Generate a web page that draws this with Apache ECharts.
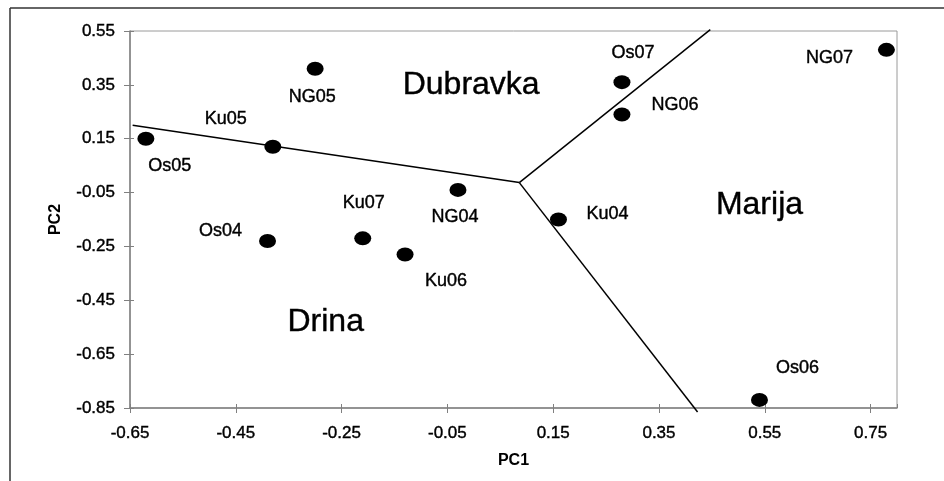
<!DOCTYPE html>
<html>
<head>
<meta charset="utf-8">
<script src="https://cdn.jsdelivr.net/npm/echarts@6/dist/echarts.min.js"></script>
<style>
html,body{margin:0;padding:0;background:#fff;}
#chart{width:944px;height:481px;}
</style>
</head>
<body>
<div id="chart"></div>
<script>
// Sample points (PC1, PC2)
var pointNames = ['Os05','Ku05','NG05','Os04','Ku07','Ku06','NG04','Ku04','Os07','NG06','NG07','Os06'];
var pc1Values  = [-0.62, -0.38, -0.30, -0.39, -0.21, -0.13, -0.03, 0.16, 0.28, 0.28, 0.78, 0.54];
var pc2Values  = [ 0.15,  0.12,  0.41, -0.23, -0.22, -0.28, -0.04, -0.15, 0.36, 0.24, 0.48, -0.82];

// Boundary lines (from junction)
var boundaryWest  = [[-0.645, 0.200], [0.086, -0.013]];
var boundaryNorth = [[0.086, -0.013], [0.447, 0.555]];
var boundarySouth = [[0.086, -0.013], [0.423, -0.865]];

// Region names and their positions
var regionNames = ['Dubravka', 'Marija', 'Drina'];
var regionPC1   = [-0.005, 0.54, -0.28];
var regionPC2   = [0.35, -0.095, -0.53];

// Axis ticks
var xMin = -0.65, xMax = 0.80, xStep = 0.2;
var yMin = -0.85, yMax = 0.55, yStep = 0.2;

// Label offsets (pixel styling, not data)
var labelOffsets = [[24,27],[-47,-28],[-3,28],[-47,-10],[1,-35],[41,27],[-3,27],[49,-5],[11,-29],[53,-9],[-57,8],[38,-32]];

var FONT = '"Liberation Sans", Arial, sans-serif';

var pointData = pointNames.map(function(n, i){
  return {
    name: n,
    value: [pc1Values[i], pc2Values[i]],
    label: {offset: labelOffsets[i]}
  };
});
var regionData = regionNames.map(function(n, i){
  return {name: n, value: [regionPC1[i], regionPC2[i]]};
});

function fmt(v){ return (Math.abs(v) < 1e-9 ? 0 : v).toFixed(2); }

var chart = echarts.init(document.getElementById('chart'), null, {renderer: 'canvas'});
var lineStyle = {color: '#000', width: 1.5};
var heavy = {textBorderColor: '#000', textBorderWidth: 0.4};
var option = {
  backgroundColor: '#fff',
  animation: false,
  textStyle: {fontFamily: FONT},
  grid: {left: 130, right: 47, top: 31, bottom: 73, show: true, borderColor: '#9a9a9a', borderWidth: 1},
  graphic: [
    {type: 'line', shape: {x1: 10, y1: 8, x2: 944, y2: 8}, style: {stroke: '#333', lineWidth: 1.5}, silent: true},
    {type: 'line', shape: {x1: 10, y1: 8, x2: 10, y2: 481}, style: {stroke: '#333', lineWidth: 1.5}, silent: true}
  ],
  xAxis: [{
    type: 'value', min: xMin, max: xMax, interval: xStep,
    name: 'PC1', nameLocation: 'middle', nameGap: 45,
    nameTextStyle: {fontFamily: FONT, fontWeight: 'bold', fontSize: 16, color: '#000'},
    axisLine: {show: true, onZero: false, lineStyle: {color: '#808080', width: 1.5}},
    axisTick: {show: true, length: 5, lineStyle: {color: '#808080'}},
    axisLabel: Object.assign({fontFamily: FONT, fontSize: 17, color: '#000', margin: 17, showMaxLabel: false,
      formatter: function(v){ return Math.abs(v - xMax) < 1e-6 ? '' : fmt(v); }}, heavy),
    splitLine: {show: false}
  },{
    type: 'value', min: xMin, max: xMax, interval: xStep, position: 'bottom',
    axisLine: {show: false, onZero: false},
    axisTick: {show: true, inside: true, length: 4, lineStyle: {color: '#808080'}},
    axisLabel: {show: false}, splitLine: {show: false}
  }],
  yAxis: [{
    type: 'value', min: yMin, max: yMax, interval: yStep,
    name: 'PC2', nameLocation: 'middle', nameGap: 66, nameRotate: 90,
    nameTextStyle: {fontFamily: FONT, fontWeight: 'bold', fontSize: 16, color: '#000'},
    axisLine: {show: true, onZero: false, lineStyle: {color: '#808080', width: 1.5}},
    axisTick: {show: true, length: 6, lineStyle: {color: '#808080'}},
    axisLabel: Object.assign({fontFamily: FONT, fontSize: 17, color: '#000', margin: 15, formatter: fmt}, heavy),
    splitLine: {show: false}
  },{
    type: 'value', min: yMin, max: yMax, interval: yStep, position: 'left',
    axisLine: {show: false, onZero: false},
    axisTick: {show: true, inside: true, length: 4, lineStyle: {color: '#808080'}},
    axisLabel: {show: false}, splitLine: {show: false}
  }],
  series: [
    {type: 'line', data: boundaryWest, symbol: 'none', lineStyle: lineStyle, clip: false, silent: true, z: 2},
    {type: 'line', data: boundaryNorth, symbol: 'none', lineStyle: lineStyle, clip: false, silent: true, z: 2},
    {type: 'line', data: boundarySouth, symbol: 'none', lineStyle: lineStyle, clip: false, silent: true, z: 2},
    {
      type: 'scatter', data: pointData, symbol: 'circle', symbolSize: [17, 14],
      itemStyle: {color: '#000', opacity: 1}, z: 3,
      label: Object.assign({show: true, position: 'inside', formatter: '{b}', fontFamily: FONT, fontSize: 18, color: '#000'}, heavy)
    },
    {
      type: 'scatter', data: regionData, symbolSize: 0, silent: true, z: 3,
      itemStyle: {color: '#000', opacity: 1},
      label: Object.assign({show: true, position: 'inside', formatter: '{b}', fontFamily: FONT, fontSize: 32, color: '#000'}, heavy)
    }
  ]
};
chart.setOption(option);
</script>
</body>
</html>
